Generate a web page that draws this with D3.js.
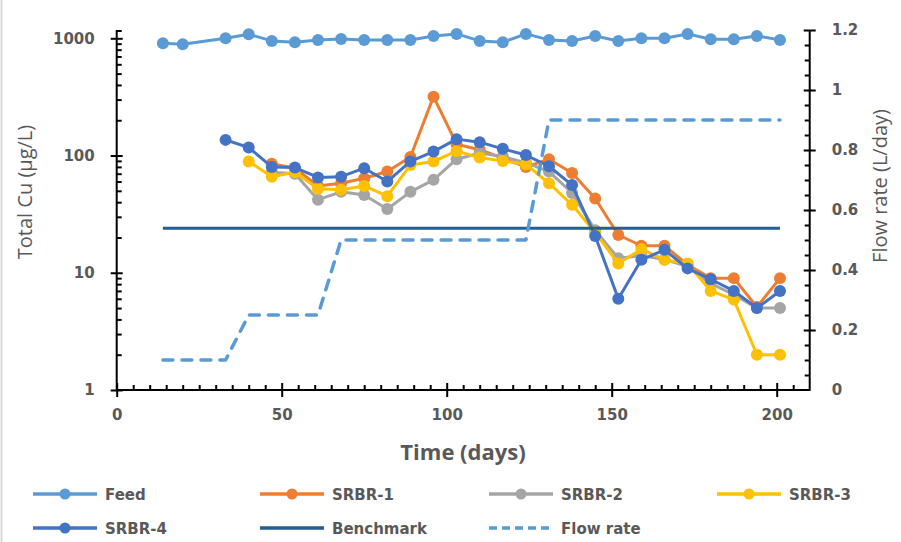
<!DOCTYPE html>
<html>
<head>
<meta charset="utf-8">
<script src="https://cdn.jsdelivr.net/npm/d3@7"></script>
<style>
  html, body { margin: 0; padding: 0; background: white; }
  svg { display: block; }
</style>
</head>
<body>
<svg class="chart" width="901" height="542"></svg>
<script>
// sampling days and measured copper (ug/L), null = not sampled
var days = [14, 20, 33, 40, 47, 54, 61, 68, 75, 82, 89, 96, 103, 110, 117, 124, 131, 138, 145, 152, 159, 166, 173, 180, 187, 194, 201];
var feed  = [908, 891, 1000, 1084, 950, 927, 969, 988, 969, 969, 969, 1048, 1090, 950, 927, 1090, 969, 950, 1048, 950, 1000, 1000, 1090, 980, 980, 1048, 969];
var srbr1 = [null, null, null, null, 85, 78, 55, 58, 64, 73, 97, 318, 125, 112, 95, 80, 93, 71, 43, 21, 17, 17, 11.7, 9, 9, 5.1, 9];
var srbr2 = [null, null, null, null, 72, 70, 42, 49, 46, 35, 49, 62, 93, 105, 98, 87, 73, 48, 23, 13.3, 14, 13, 11.3, 8.1, 6.5, 5, 5];
var srbr3 = [null, null, null, 89, 66, 72, 52, 51, 55, 45, 83, 89, 109, 96, 90, 84, 58, 38, 22, 12, 15.9, 12.9, 12, 7, 5.9, 2, 2];
var srbr4 = [null, null, 136, 117, 80, 79, 65, 66, 78, 60, 89, 108, 138, 130, 114, 101, 81, 56, 20.6, 6, 12.9, 15.7, 10.9, 8.8, 7, 5, 7];

var benchmarkDays = [14, 201];
var benchmark = 24;

// flow rate (L/day) on secondary axis
var flowDays = [14, 33, 40, 61, 68, 124, 131, 201];
var flow     = [0.1, 0.1, 0.25, 0.25, 0.5, 0.5, 0.9, 0.9];

var cuTicks = [1, 10, 100, 1000];
var flowTicks = [0, 0.2, 0.4, 0.6, 0.8, 1, 1.2];
var dayTicks = [0, 50, 100, 150, 200];

var svg = d3.select("svg.chart"),
    plotLeft = 116.7, plotRight = 809.7, plotBottom = 390, plotTop = 30;

var gray = "#595959";

var x = d3.scaleLinear().domain([0, 210]).range([plotLeft, plotRight]);
var y = d3.scaleLog().domain([1, 1000]).range([plotBottom, 38.3]);
var y2 = d3.scaleLinear().domain([0, 1.2]).range([plotBottom, plotTop]);

// chart frame edge on the left
svg.append("line")
    .attr("x1", 1.5).attr("x2", 1.5).attr("y1", 0).attr("y2", 542)
    .attr("stroke", "#d9d9d9").attr("stroke-width", 2);

var series = [
    {name: "Feed", values: feed, color: "#5b9bd5"},
    {name: "SRBR-1", values: srbr1, color: "#ed7d31"},
    {name: "SRBR-2", values: srbr2, color: "#a5a5a5"},
    {name: "SRBR-3", values: srbr3, color: "#ffc000"},
    {name: "SRBR-4", values: srbr4, color: "#4472c4"}
];

var line = d3.line()
    .defined(function(d) { return d[1] != null; })
    .x(function(d) { return x(d[0]); })
    .y(function(d) { return y(d[1]); });

series.forEach(function(s) {
    var pts = days.map(function(d, i) { return [d, s.values[i]]; });
    var g = svg.append("g");
    g.append("path")
        .datum(pts)
        .attr("fill", "none")
        .attr("stroke", s.color)
        .attr("stroke-width", 3)
        .attr("stroke-linejoin", "round")
        .attr("d", line);
    g.selectAll("circle")
        .data(pts.filter(function(d) { return d[1] != null; }))
        .join("circle")
        .attr("cx", function(d) { return x(d[0]); })
        .attr("cy", function(d) { return y(d[1]); })
        .attr("r", 6)
        .attr("fill", s.color);
});

// benchmark
svg.append("path")
    .datum(benchmarkDays.map(function(d) { return [d, benchmark]; }))
    .attr("fill", "none")
    .attr("stroke", "#255e91")
    .attr("stroke-width", 3)
    .attr("d", line);

// flow rate, dashed
var flowLine = d3.line()
    .x(function(d) { return x(d[0]); })
    .y(function(d) { return y2(d[1]); });

svg.append("path")
    .datum(flowDays.map(function(d, i) { return [d, flow[i]]; }))
    .attr("fill", "none")
    .attr("stroke", "#5b9bd5")
    .attr("stroke-width", 3.5)
    .attr("stroke-linecap", "round")
    .attr("stroke-linejoin", "round")
    .attr("stroke-dasharray", "10,9")
    .attr("d", flowLine);

// axes
function styleAxis(g) {
    g.select(".domain").remove();
    g.selectAll(".tick line").attr("stroke", "black").attr("stroke-width", 2);
    g.selectAll(".tick text")
        .attr("fill", gray)
        .style("font-family", "'DejaVu Sans', Verdana, sans-serif")
        .style("font-weight", "bold")
        .style("font-size", "15px");
}

// left log axis
var minorCu = [];
[1, 10, 100].forEach(function(b) {
    for (var k = 2; k <= 9; k++) minorCu.push(b * k);
});

svg.append("g")
    .attr("transform", "translate(" + plotLeft + ",0)")
    .call(d3.axisLeft(y).tickValues(minorCu).tickFormat("").tickSize(-5))
    .call(styleAxis);

var ly = svg.append("g")
    .attr("transform", "translate(" + plotLeft + ",0)")
    .call(d3.axisLeft(y).tickValues(cuTicks).tickFormat(d3.format("d")).tickSize(6).tickPadding(16))
    .call(styleAxis);
ly.selectAll(".tick line").attr("x2", -6).attr("x1", 6);

// right axis
var minorFlow = d3.range(0, 24).map(function(i) { return i * 0.05; }).filter(function(v, i) { return i % 4 != 0; });
svg.append("g")
    .attr("transform", "translate(" + plotRight + ",0)")
    .call(d3.axisRight(y2).tickValues(minorFlow).tickFormat("").tickSize(-5))
    .call(styleAxis);

var ry = svg.append("g")
    .attr("transform", "translate(" + plotRight + ",0)")
    .call(d3.axisRight(y2).tickValues(flowTicks).tickFormat(d3.format("")).tickSize(6).tickPadding(16))
    .call(styleAxis);
ry.selectAll(".tick line").attr("x1", -6).attr("x2", 6);
ry.selectAll(".tick").filter(function(d) { return d == 0; }).select("line").remove();

// x axis
var minorDays = d3.range(5, 210, 5).filter(function(d) { return d % 50 != 0; });
svg.append("g")
    .attr("transform", "translate(0," + plotBottom + ")")
    .call(d3.axisBottom(x).tickValues(minorDays).tickFormat("").tickSize(-5))
    .call(styleAxis);

var gx = svg.append("g")
    .attr("transform", "translate(0," + plotBottom + ")")
    .call(d3.axisBottom(x).tickValues(dayTicks).tickSize(7).tickPadding(12))
    .call(styleAxis);
gx.selectAll(".tick line").attr("y1", -7).attr("y2", 7);

// axis lines
svg.append("path")
    .attr("d", "M" + plotLeft + "," + plotTop + "V" + plotBottom + "H" + plotRight + "V" + plotTop)
    .attr("fill", "none")
    .attr("stroke", "black")
    .attr("stroke-width", 2);
svg.append("line")
    .attr("x1", plotLeft).attr("x2", plotLeft + 5).attr("y1", plotTop + 1).attr("y2", plotTop + 1)
    .attr("stroke", "black").attr("stroke-width", 2);

// titles
svg.append("text")
    .attr("transform", "translate(32,192) rotate(-90)")
    .attr("text-anchor", "middle")
    .attr("fill", gray)
    .style("font-family", "'Open Sans', sans-serif")
    .style("font-size", "20px")
    .text("Total Cu (µg/L)");

svg.append("text")
    .attr("transform", "translate(887,186) rotate(-90)")
    .attr("text-anchor", "middle")
    .attr("fill", gray)
    .style("font-family", "'Open Sans', sans-serif")
    .style("font-size", "20px")
    .text("Flow rate (L/day)");

svg.append("text")
    .attr("x", 463)
    .attr("y", 460)
    .attr("text-anchor", "middle")
    .attr("fill", gray)
    .style("font-family", "'Open Sans', sans-serif")
    .style("font-weight", "bold")
    .style("font-size", "22px")
    .text("Time (days)");

// legend
var legendItems = [
    {name: "Feed", color: "#5b9bd5", marker: true},
    {name: "SRBR-1", color: "#ed7d31", marker: true},
    {name: "SRBR-2", color: "#a5a5a5", marker: true},
    {name: "SRBR-3", color: "#ffc000", marker: true},
    {name: "SRBR-4", color: "#4472c4", marker: true},
    {name: "Benchmark", color: "#255e91", marker: false},
    {name: "Flow rate", color: "#5b9bd5", marker: false, dash: true}
];
var legendCols = [33, 260, 489, 717], legendRows = [494, 528];

legendItems.forEach(function(it, i) {
    var lx = legendCols[i % 4], lyy = legendRows[Math.floor(i / 4)];
    var g = svg.append("g").attr("transform", "translate(" + lx + "," + lyy + ")");
    g.append("line")
        .attr("x1", 0).attr("x2", 64).attr("y1", 0).attr("y2", 0)
        .attr("stroke", it.color)
        .attr("stroke-width", 3.5)
        .attr("stroke-dasharray", it.dash ? "8,5" : null);
    if (it.marker) {
        g.append("circle").attr("cx", 32).attr("cy", 0).attr("r", 5.5).attr("fill", it.color);
    }
    g.append("text")
        .attr("x", 72)
        .attr("y", 5.5)
        .attr("fill", gray)
        .style("font-family", "'DejaVu Sans', sans-serif")
        .style("font-weight", "bold")
        .style("font-size", "15px")
        .text(it.name);
});
</script>
</body>
</html>
